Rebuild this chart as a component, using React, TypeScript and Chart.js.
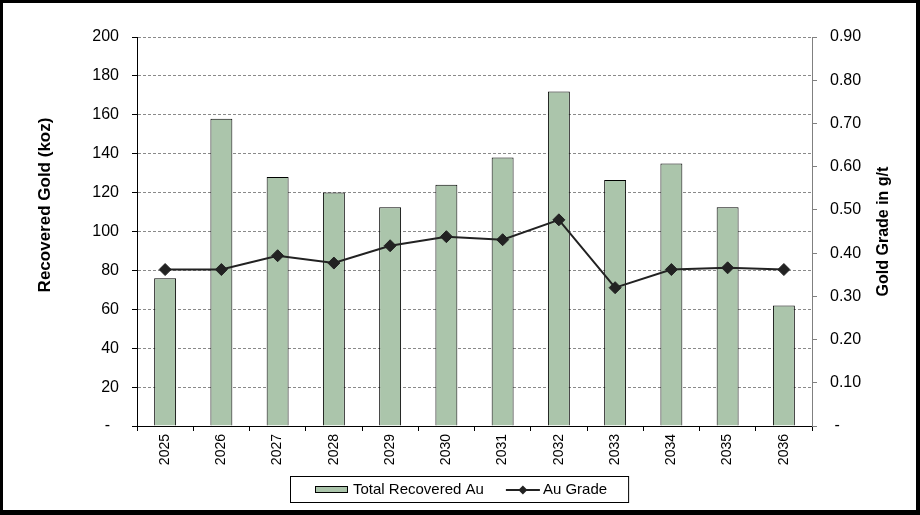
import React, { useEffect, useRef } from 'react';
import { Chart, registerables } from 'chart.js';

Chart.register(...registerables);

const years = ['2025', '2026', '2027', '2028', '2029', '2030', '2031', '2032', '2033', '2034', '2035', '2036'];
const recoveredGold = [76, 158, 128, 120, 112.5, 124, 138, 172, 126.5, 135, 112.5, 62];
const auGrade = [0.362, 0.362, 0.394, 0.377, 0.417, 0.438, 0.431, 0.477, 0.32, 0.362, 0.366, 0.362];

const leftAxisTitle = 'Recovered Gold (koz)';
const rightAxisTitle = 'Gold Grade in g/t';
const barLabel = 'Total Recovered Au';
const lineLabel = 'Au Grade';
const leftMax = 200;
const leftStep = 20;
const rightMax = 0.9;
const rightStep = 0.1;

const FONT = '"Liberation Sans", Arial, sans-serif';
const BAR_COLOR = '#abc5ab';
const LINE_COLOR = '#222222';

const framePlugin = {
  id: 'framePlugin',
  afterDraw(chart: any) {
    const ctx = chart.ctx as CanvasRenderingContext2D;
    const area = chart.chartArea;
    ctx.save();
    // outer frame
    ctx.fillStyle = '#000';
    ctx.fillRect(0, 0, 920, 3);
    ctx.fillRect(0, 0, 3, 515);
    ctx.fillRect(916, 0, 4, 515);
    ctx.fillRect(0, 510, 920, 5);

    // axis titles
    ctx.fillStyle = '#000';
    ctx.textAlign = 'center';
    ctx.textBaseline = 'middle';
    ctx.save();
    ctx.font = `bold 17px ${FONT}`;
    ctx.translate(45, 205);
    ctx.rotate(-Math.PI / 2);
    ctx.fillText(leftAxisTitle, 0, 0);
    ctx.restore();
    ctx.save();
    ctx.font = `bold 16px ${FONT}`;
    ctx.translate(884, (area.top + area.bottom) / 2);
    ctx.rotate(-Math.PI / 2);
    ctx.fillText(rightAxisTitle, 0, 0);
    ctx.restore();

    // legend
    const ds = chart.data.datasets;
    ctx.font = `15px ${FONT}`;
    ctx.textAlign = 'left';
    ctx.textBaseline = 'middle';
    const cy = 490;
    const boxLeft = 290;
    const swX = 315;
    ctx.fillStyle = BAR_COLOR;
    ctx.fillRect(swX, cy - 3, 33, 6);
    ctx.strokeStyle = '#000';
    ctx.lineWidth = 1;
    ctx.strokeRect(swX + 0.5, cy - 3.5, 32, 6);
    ctx.fillStyle = '#000';
    const t1x = 353;
    ctx.fillText(ds[0].label, t1x, cy);
    const w1 = ctx.measureText(ds[0].label).width;
    const lx = t1x + w1 + 22;
    ctx.strokeStyle = LINE_COLOR;
    ctx.lineWidth = 2;
    ctx.beginPath();
    ctx.moveTo(lx, cy);
    ctx.lineTo(lx + 34, cy);
    ctx.stroke();
    ctx.fillStyle = LINE_COLOR;
    ctx.beginPath();
    ctx.moveTo(lx + 17, cy - 4.5);
    ctx.lineTo(lx + 21.5, cy);
    ctx.lineTo(lx + 17, cy + 4.5);
    ctx.lineTo(lx + 12.5, cy);
    ctx.closePath();
    ctx.fill();
    ctx.fillStyle = '#000';
    const t2x = lx + 37;
    ctx.fillText(ds[1].label, t2x, cy);
    const w2 = ctx.measureText(ds[1].label).width;
    const boxRight = t2x + w2 + 21;
    ctx.strokeStyle = '#000';
    ctx.lineWidth = 1;
    ctx.strokeRect(boxLeft + 0.5, 476.5, boxRight - boxLeft, 26);
    ctx.restore();
  },
};

export default function App() {
  const canvasRef = useRef<HTMLCanvasElement | null>(null);

  useEffect(() => {
    if (!canvasRef.current) return;
    Chart.defaults.font.family = FONT;
    const chart = new Chart(canvasRef.current, {
      type: 'bar',
      data: {
        labels: years,
        datasets: [
          {
            type: 'bar',
            label: barLabel,
            data: recoveredGold,
            backgroundColor: BAR_COLOR,
            borderColor: '#000',
            borderWidth: 1,
            barPercentage: 0.39,
            categoryPercentage: 1,
            yAxisID: 'y',
            order: 2,
          },
          {
            type: 'line',
            label: lineLabel,
            data: auGrade,
            borderColor: LINE_COLOR,
            borderWidth: 2,
            backgroundColor: LINE_COLOR,
            pointStyle: 'rectRot',
            pointRadius: 6,
            pointBackgroundColor: LINE_COLOR,
            pointBorderColor: LINE_COLOR,
            pointBorderWidth: 1,
            tension: 0,
            fill: false,
            yAxisID: 'y1',
            order: 1,
          } as any,
        ],
      },
      options: {
        responsive: false,
        animation: false,
        layout: { padding: { top: 37, left: 0, right: 0, bottom: 0 } },
        plugins: {
          legend: { display: false },
          tooltip: { enabled: false },
        },
        scales: {
          x: {
            offset: true,
            grid: {
              offset: true,
              drawOnChartArea: false,
              drawTicks: true,
              tickLength: 5,
              tickColor: '#000',
              tickWidth: 1,
            },
            border: { color: '#000', width: 1 },
            ticks: {
              color: '#000',
              font: { family: FONT, size: 14 },
              minRotation: 90,
              maxRotation: 90,
              padding: 3,
              autoSkip: false,
            },
            afterFit: (s: any) => {
              s.height = 89;
            },
          },
          y: {
            position: 'left',
            min: 0,
            max: leftMax,
            ticks: {
              stepSize: leftStep,
              color: '#000',
              padding: 13,
              font: { family: FONT, size: 16 },
              callback: (v: any) => (Number(v) === 0 ? '-  ' : String(v)),
            },
            grid: {
              color: (c: any) => (c.tick && c.tick.value === 0 ? 'rgba(0,0,0,0)' : '#8a8a8a'),
              lineWidth: 1,
              tickColor: '#000',
              tickLength: 5,
              tickWidth: 1,
              tickBorderDash: [],
            } as any,
            border: { color: '#000', width: 1, dash: [3, 2] },
            afterFit: (s: any) => {
              s.width = 137;
            },
          },
          y1: {
            position: 'right',
            min: 0,
            max: rightMax,
            ticks: {
              stepSize: rightStep,
              color: '#000',
              padding: 13,
              font: { family: FONT, size: 16 },
              callback: (v: any) => (Math.abs(Number(v)) < 1e-9 ? ' -' : Number(v).toFixed(2)),
            },
            grid: {
              drawOnChartArea: false,
              tickColor: '#808080',
              tickLength: 5,
              tickWidth: 1,
            },
            border: { color: '#808080', width: 1 },
            afterFit: (s: any) => {
              s.width = 108;
            },
          },
        },
      },
      plugins: [framePlugin],
    });
    return () => chart.destroy();
  }, []);

  return (
    <div style={{ position: 'absolute', left: 0, top: 0, width: 920, height: 515, background: '#fff' }}>
      <canvas ref={canvasRef} width={920} height={515} />
    </div>
  );
}
